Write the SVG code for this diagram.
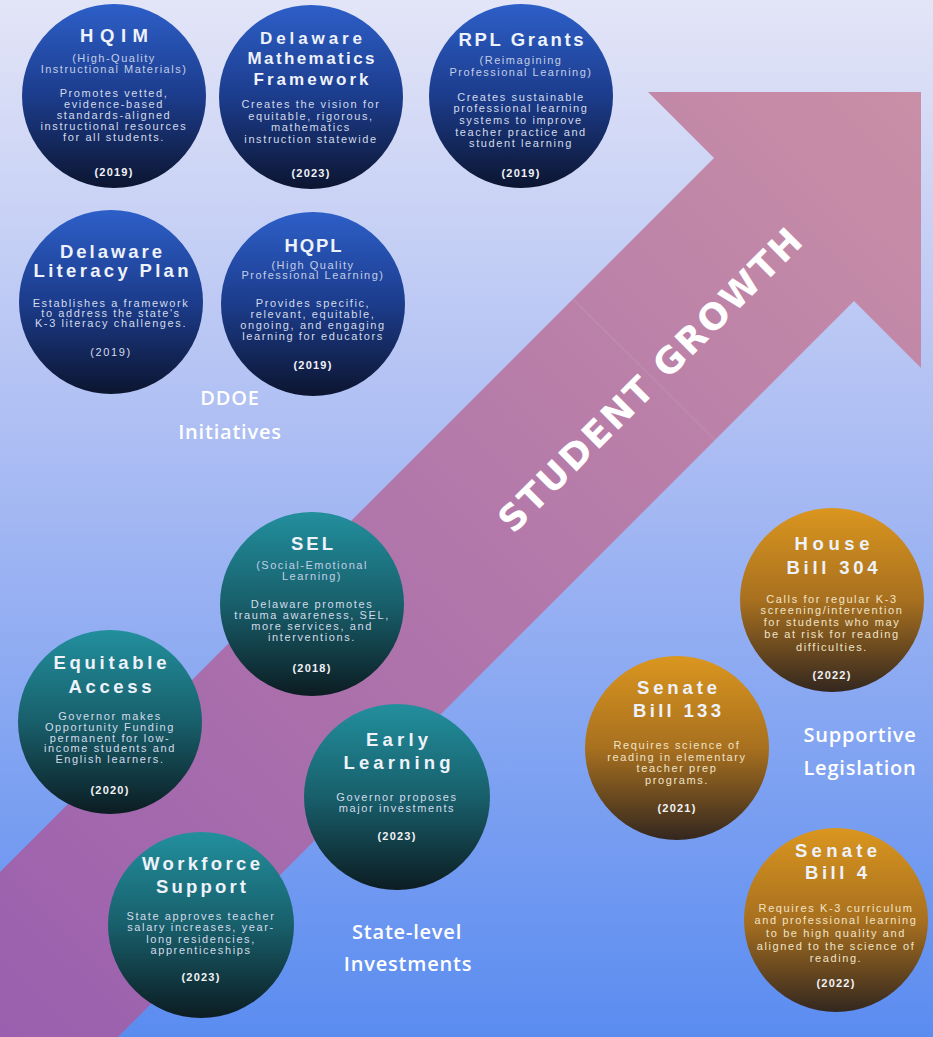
<svg xmlns="http://www.w3.org/2000/svg" width="933" height="1037" viewBox="0 0 933 1037">
<defs>
<linearGradient id="bg" x1="0" y1="0" x2="0" y2="1">
<stop offset="0" stop-color="#e3e5f7"/>
<stop offset="0.45" stop-color="#a9bbf3"/>
<stop offset="1" stop-color="#5a8cf0"/>
</linearGradient>
<linearGradient id="arrowG" gradientUnits="userSpaceOnUse" x1="0" y1="1037" x2="921" y2="92">
<stop offset="0" stop-color="#9a5fae"/>
<stop offset="1" stop-color="#c98fa6"/>
</linearGradient>
<linearGradient id="blue" x1="0" y1="0" x2="0" y2="1">
<stop offset="0" stop-color="#2d5fc8"/>
<stop offset="0.5" stop-color="#1c3c8c"/>
<stop offset="1" stop-color="#0c1530"/>
</linearGradient>
<linearGradient id="teal" x1="0" y1="0" x2="0" y2="1">
<stop offset="0" stop-color="#228f9d"/>
<stop offset="0.5" stop-color="#185f6b"/>
<stop offset="1" stop-color="#0c1c22"/>
</linearGradient>
<linearGradient id="gold" x1="0" y1="0" x2="0" y2="1">
<stop offset="0" stop-color="#da961f"/>
<stop offset="0.5" stop-color="#a8701f"/>
<stop offset="1" stop-color="#33271f"/>
</linearGradient>
</defs>
<style>
text{font-family:"Liberation Sans",Arial,sans-serif;text-anchor:middle}
.t{font-size:18.5px;font-weight:bold;fill:#eef2fa}
.tm{font-size:17px}
.s{font-size:11px;fill:#c3cee6;letter-spacing:1.5px}
.b{font-size:11px;fill:#d3dbea;letter-spacing:1.6px}
.y{font-size:11px;font-weight:bold;fill:#f2f2f6;letter-spacing:1.2px}
.go .b{fill:#f0e4c8}
.lab{font-family:"Open Sans","Liberation Sans",sans-serif;font-size:20px;font-weight:600;fill:#ffffff;letter-spacing:0.8px}
.sg{font-family:"DejaVu Sans",sans-serif;font-size:36px;font-weight:bold;fill:#ffffff}
</style>
<rect width="933" height="1037" fill="url(#bg)"/>
<g id="arrow">
<polygon points="0,872 714,158 648,92 921,92 921,368 854,301 118,1037 0,1037" fill="url(#arrowG)"/>
<line x1="573" y1="299" x2="715" y2="440" stroke="#ffffff" stroke-opacity="0.06" stroke-width="2"/>
<text class="sg" transform="translate(659,389) rotate(-45)" textLength="412" lengthAdjust="spacing">STUDENT GROWTH</text>
</g>
<g id="labels">
<text class="lab" x="230" y="405">DDOE</text>
<text class="lab" x="230" y="439">Initiatives</text>
<text class="lab" x="860" y="742">Supportive</text>
<text class="lab" x="860" y="775">Legislation</text>
<text class="lab" x="407" y="939">State-level</text>
<text class="lab" x="408" y="971">Investments</text>
</g>
<g id="hqim">
<circle cx="114" cy="96" r="92" fill="url(#blue)"/>
<text class="t" x="114" y="42" textLength="68" lengthAdjust="spacing">HQIM</text>
<text class="s" x="114" y="62">(High-Quality</text>
<text class="s" x="114" y="73">Instructional Materials)</text>
<text class="b" x="114" y="97">Promotes vetted,</text>
<text class="b" x="114" y="108">evidence-based</text>
<text class="b" x="114" y="119">standards-aligned</text>
<text class="b" x="114" y="130">instructional resources</text>
<text class="b" x="114" y="141">for all students.</text>
<text class="y" x="114" y="176">(2019)</text>
</g>
<g id="math">
<circle cx="311" cy="97" r="92" fill="url(#blue)"/>
<text class="t tm" x="311" y="44" textLength="102" lengthAdjust="spacing">Delaware</text>
<text class="t tm" x="311" y="64" textLength="127" lengthAdjust="spacing">Mathematics</text>
<text class="t tm" x="311" y="85" textLength="115" lengthAdjust="spacing">Framework</text>
<text class="b" x="311" y="108">Creates the vision for</text>
<text class="b" x="311" y="120">equitable, rigorous,</text>
<text class="b" x="311" y="131">mathematics</text>
<text class="b" x="311" y="143">instruction statewide</text>
<text class="y" x="311" y="177">(2023)</text>
</g>
<g id="rpl">
<circle cx="521" cy="96" r="92" fill="url(#blue)"/>
<text class="t" x="521" y="46" textLength="125" lengthAdjust="spacing">RPL Grants</text>
<text class="s" x="521" y="64">(Reimagining</text>
<text class="s" x="521" y="76">Professional Learning)</text>
<text class="b" x="521" y="101">Creates sustainable</text>
<text class="b" x="521" y="112">professional learning</text>
<text class="b" x="521" y="124">systems to improve</text>
<text class="b" x="521" y="136">teacher practice and</text>
<text class="b" x="521" y="147">student learning</text>
<text class="y" x="521" y="177">(2019)</text>
</g>
<g id="literacy">
<circle cx="111" cy="302" r="92" fill="url(#blue)"/>
<text class="t" x="111" y="258" textLength="102" lengthAdjust="spacing">Delaware</text>
<text class="t" x="111" y="277" textLength="155" lengthAdjust="spacing">Literacy Plan</text>
<text class="b" x="111" y="307">Establishes a framework</text>
<text class="b" x="111" y="317">to address the state's</text>
<text class="b" x="111" y="327">K-3 literacy challenges.</text>
<text class="b" x="111" y="356">(2019)</text>
</g>
<g id="hqpl">
<circle cx="313" cy="304" r="92" fill="url(#blue)"/>
<text class="t" x="313" y="252" textLength="57" lengthAdjust="spacing">HQPL</text>
<text class="s" x="313" y="269">(High Quality</text>
<text class="s" x="313" y="279">Professional Learning)</text>
<text class="b" x="313" y="307">Provides specific,</text>
<text class="b" x="313" y="318">relevant, equitable,</text>
<text class="b" x="313" y="329">ongoing, and engaging</text>
<text class="b" x="313" y="340">learning for educators</text>
<text class="y" x="313" y="369">(2019)</text>
</g>
<g id="sel">
<circle cx="312" cy="604" r="92" fill="url(#teal)"/>
<text class="t" x="312" y="550" textLength="42" lengthAdjust="spacing">SEL</text>
<text class="s" x="312" y="569">(Social-Emotional</text>
<text class="s" x="312" y="580">Learning)</text>
<text class="b" x="312" y="608">Delaware promotes</text>
<text class="b" x="312" y="619">trauma awareness, SEL,</text>
<text class="b" x="312" y="630">more services, and</text>
<text class="b" x="312" y="641">interventions.</text>
<text class="y" x="312" y="672">(2018)</text>
</g>
<g id="equitable">
<circle cx="110" cy="722" r="92" fill="url(#teal)"/>
<text class="t" x="110" y="669" textLength="113" lengthAdjust="spacing">Equitable</text>
<text class="t" x="110" y="693" textLength="83" lengthAdjust="spacing">Access</text>
<text class="b" x="110" y="720">Governor makes</text>
<text class="b" x="110" y="731">Opportunity Funding</text>
<text class="b" x="110" y="742">permanent for low-</text>
<text class="b" x="110" y="752">income students and</text>
<text class="b" x="110" y="763">English learners.</text>
<text class="y" x="110" y="794">(2020)</text>
</g>
<g id="early">
<circle cx="397" cy="797" r="93" fill="url(#teal)"/>
<text class="t" x="397" y="746" textLength="62" lengthAdjust="spacing">Early</text>
<text class="t" x="397" y="769" textLength="107" lengthAdjust="spacing">Learning</text>
<text class="b" x="397" y="801">Governor proposes</text>
<text class="b" x="397" y="812">major investments</text>
<text class="y" x="397" y="840">(2023)</text>
</g>
<g id="workforce">
<circle cx="201" cy="925" r="93" fill="url(#teal)"/>
<text class="t" x="201" y="870" textLength="118" lengthAdjust="spacing">Workforce</text>
<text class="t" x="201" y="893" textLength="90" lengthAdjust="spacing">Support</text>
<text class="b" x="201" y="920">State approves teacher</text>
<text class="b" x="201" y="931">salary increases, year-</text>
<text class="b" x="201" y="943">long residencies,</text>
<text class="b" x="201" y="954">apprenticeships</text>
<text class="y" x="201" y="981">(2023)</text>
</g>
<g id="hb304" class="go">
<circle cx="832" cy="600" r="92" fill="url(#gold)"/>
<text class="t" x="832" y="550" textLength="75" lengthAdjust="spacing">House</text>
<text class="t" x="832" y="574" textLength="91" lengthAdjust="spacing">Bill 304</text>
<text class="b" x="832" y="603">Calls for regular K-3</text>
<text class="b" x="832" y="614">screening/intervention</text>
<text class="b" x="832" y="626">for students who may</text>
<text class="b" x="832" y="638">be at risk for reading</text>
<text class="b" x="832" y="651">difficulties.</text>
<text class="y" x="832" y="679">(2022)</text>
</g>
<g id="sb133" class="go">
<circle cx="677" cy="748" r="92" fill="url(#gold)"/>
<text class="t" x="677" y="694" textLength="80" lengthAdjust="spacing">Senate</text>
<text class="t" x="677" y="717" textLength="88" lengthAdjust="spacing">Bill 133</text>
<text class="b" x="677" y="749">Requires science of</text>
<text class="b" x="677" y="761">reading in elementary</text>
<text class="b" x="677" y="772">teacher prep</text>
<text class="b" x="677" y="784">programs.</text>
<text class="y" x="677" y="812">(2021)</text>
</g>
<g id="sb4" class="go">
<circle cx="836" cy="920" r="92" fill="url(#gold)"/>
<text class="t" x="836" y="857" textLength="82" lengthAdjust="spacing">Senate</text>
<text class="t" x="836" y="879" textLength="62" lengthAdjust="spacing">Bill 4</text>
<text class="b" x="836" y="912">Requires K-3 curriculum</text>
<text class="b" x="836" y="924">and professional learning</text>
<text class="b" x="836" y="937">to be high quality and</text>
<text class="b" x="836" y="950">aligned to the science of</text>
<text class="b" x="836" y="962">reading.</text>
<text class="y" x="836" y="987">(2022)</text>
</g>
</svg>
